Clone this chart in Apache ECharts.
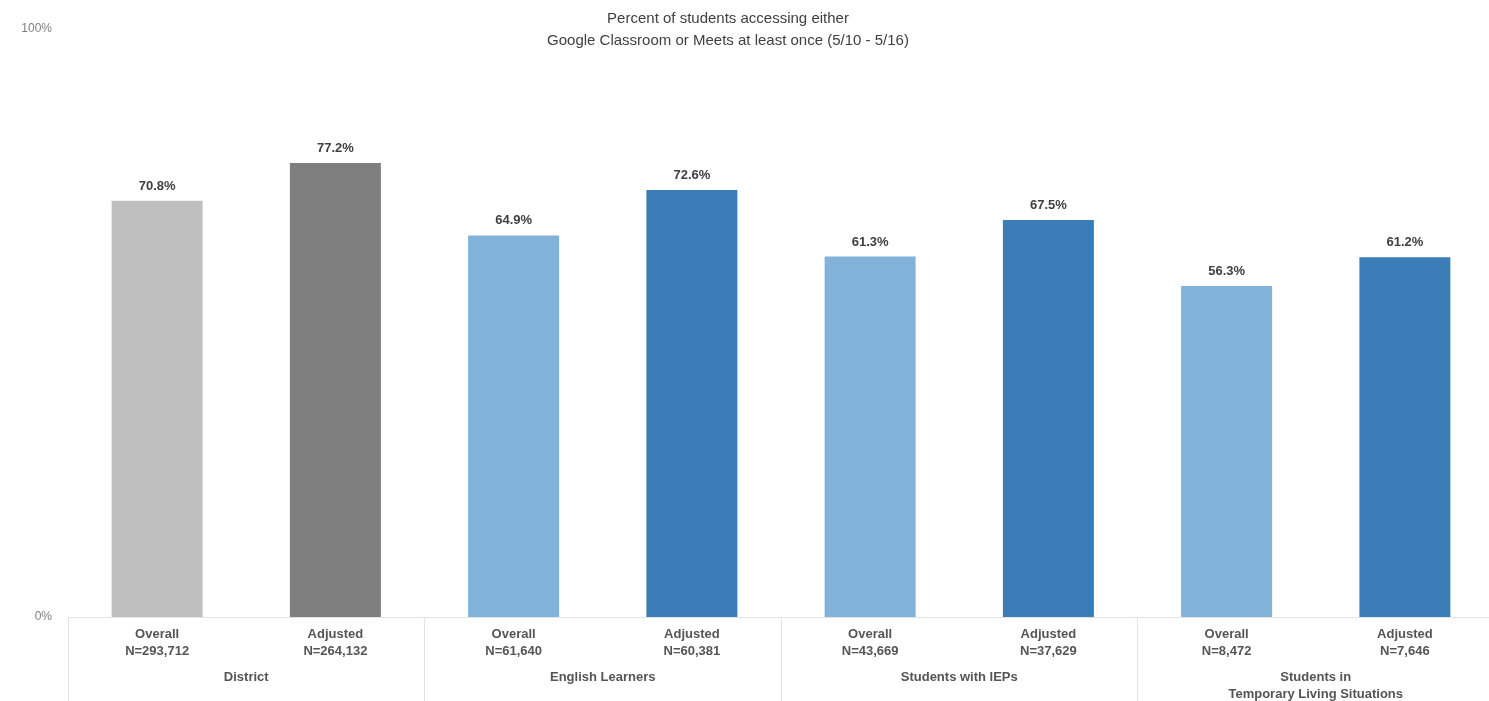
<!DOCTYPE html>
<html><head><meta charset="utf-8">
<script src="https://cdn.jsdelivr.net/npm/echarts@6/dist/echarts.min.js"></script>
<style>html,body{margin:0;padding:0;background:#fff}#c{width:1489px;height:701px}</style>
</head><body><div id="c"></div>
<script>
const barNames = ["Overall","Adjusted","Overall","Adjusted","Overall","Adjusted","Overall","Adjusted"];
const barCounts = ["N=293,712","N=264,132","N=61,640","N=60,381","N=43,669","N=37,629","N=8,472","N=7,646"];
const values = [70.8, 77.2, 64.9, 72.6, 61.3, 67.5, 56.3, 61.2];
const groups = ["District","English Learners","Students with IEPs","Students in\nTemporary Living Situations"];
const yTicks = ["0%","100%"];
const barColors = ["#bfbfbf","#7f7f7f","#82b2d7","#3a7db7","#82b2d7","#3a7db7","#82b2d7","#3a7db7"];

const chart = echarts.init(document.getElementById('c'));
const font = "Liberation Sans, Arial, sans-serif";
chart.setOption({
  animation:false,
  title:{
    text:"Percent of students accessing either\nGoogle Classroom or Meets at least once (5/10 - 5/16)",
    left:723, top:3, textAlign:'center',
    textStyle:{fontFamily:font,fontSize:15,fontWeight:'normal',color:'#404040',lineHeight:22}
  },
  grid:{left:68, top:29, right:-5, bottom:84, containLabel:false, outerBoundsMode:'none'},
  xAxis:[
    {type:'category', data:barNames.map((n,i)=>n+"\n"+barCounts[i]), position:'bottom',
     axisLine:{show:true,lineStyle:{color:'#e3e3e3',width:1}}, axisTick:{show:false},
     axisLabel:{interval:0, margin:9, fontFamily:font, fontSize:13, fontWeight:'bold', color:'#555', lineHeight:17}},
    {type:'category', data:groups, position:'bottom', offset:0,
     axisLine:{show:false},
     axisTick:{show:true, length:84, lineStyle:{color:'#e3e3e3'}},
     axisLabel:{interval:0, margin:52, fontFamily:font, fontSize:13, fontWeight:'bold', color:'#555', lineHeight:17}}
  ],
  yAxis:{type:'value', min:0, max:100, interval:100, splitLine:{show:false},
    axisLine:{show:false}, axisTick:{show:false},
    axisLabel:{margin:16, fontFamily:font, fontSize:12, color:'#7f7f7f', formatter:(v)=> v===0?yTicks[0]:yTicks[1]}},
  series:[{
    type:'bar', xAxisIndex:0, barWidth:91,
    data: values.map((v,i)=>({value:v, itemStyle:{color:barColors[i]}})),
    label:{show:true, position:'top', distance:8, formatter:(p)=>p.value.toFixed(1)+'%',
      fontFamily:font, fontSize:13, fontWeight:'bold', color:'#404040'}
  }]
});
</script></body></html>
